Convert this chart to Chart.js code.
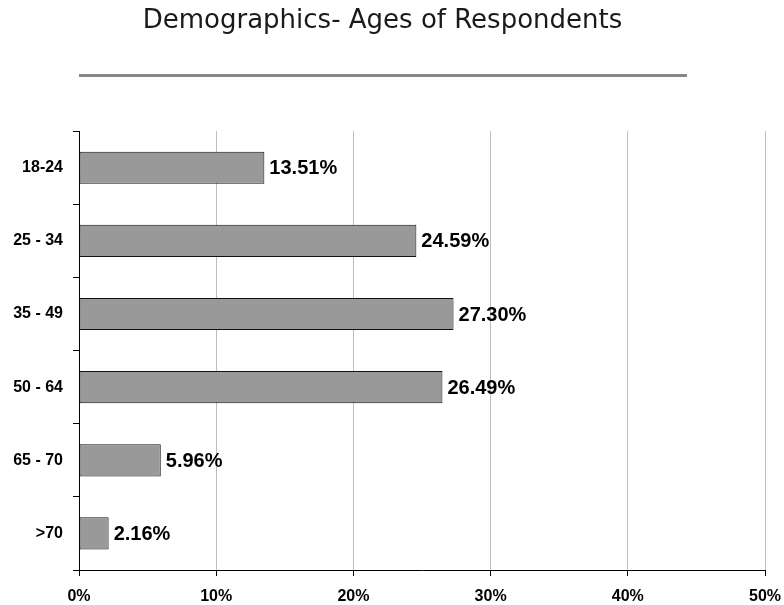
<!DOCTYPE html>
<html>
<head>
<meta charset="utf-8">
<script src="https://cdn.jsdelivr.net/npm/chart.js@4/dist/chart.umd.min.js"></script>
<style>
  html, body { margin: 0; padding: 0; background: #fff; }
  #wrap { width: 784px; height: 605px; }
</style>
</head>
<body>
<div id="wrap"><canvas id="chart" width="784" height="605"></canvas></div>
<script>
const title = 'Demographics- Ages of Respondents'
const ageGroups = ['18-24', '25 - 34', '35 - 49', '50 - 64', '65 - 70', '>70']
const shares = [13.51, 24.59, 27.30, 26.49, 5.96, 2.16]
const axisMax = 50
const axisStep = 10

// value printed to the right of each bar
const valueLabels = {
  id: 'valueLabels',
  afterDatasetsDraw(chart) {
    const { ctx } = chart
    const meta = chart.getDatasetMeta(0)
    ctx.save()
    ctx.font = 'bold 20px "Liberation Sans", Arial, sans-serif'
    ctx.fillStyle = '#000'
    ctx.textAlign = 'left'
    ctx.textBaseline = 'middle'
    meta.data.forEach((bar, i) => {
      ctx.fillText(shares[i].toFixed(2) + '%', bar.x + 5, bar.y + 1)
    })
    ctx.restore()
  }
}

// grey rule under the heading
const headingRule = {
  id: 'headingRule',
  afterDraw(chart) {
    const { ctx } = chart
    ctx.save()
    ctx.fillStyle = '#878787'
    ctx.fillRect(79, 74, 608, 3)
    ctx.restore()
  }
}

const tickFont = { family: '"Liberation Sans", Arial, sans-serif', size: 16, weight: 'bold' }

new Chart(document.getElementById('chart'), {
  type: 'bar',
  data: {
    labels: ageGroups,
    datasets: [{
      data: shares,
      backgroundColor: '#999999',
      borderColor: '#111111',
      borderWidth: 1,
      borderSkipped: false,
      barPercentage: 0.44,
      categoryPercentage: 1
    }]
  },
  options: {
    indexAxis: 'y',
    responsive: false,
    animation: false,
    layout: { padding: { left: 0, right: 19, top: 0, bottom: 0 } },
    plugins: {
      legend: { display: false },
      tooltip: { enabled: false },
      title: {
        display: true,
        text: title,
        color: '#1a1a1a',
        font: { family: '"DejaVu Sans", sans-serif', size: 26, weight: 'normal', lineHeight: 1.2 },
        padding: { top: 6, bottom: 94 }
      }
    },
    scales: {
      x: {
        min: 0,
        max: axisMax,
        ticks: {
          stepSize: axisStep,
          color: '#000',
          font: tickFont,
          padding: 11,
          callback: v => v + '%'
        },
        grid: { color: '#bdbdbd', tickColor: '#000', tickLength: 6 },
        border: { color: '#000', width: 1 },
        afterFit(scale) {
          scale.height = 35
          scale.paddingRight = 0
        }
      },
      y: {
        ticks: { color: '#000', font: tickFont, padding: 10 },
        grid: { drawOnChartArea: false, offset: true, color: '#000', tickColor: '#000', tickLength: 6 },
        border: { color: '#000', width: 1 },
        afterFit(scale) { scale.width = 79 }
      }
    }
  },
  plugins: [valueLabels, headingRule]
})
</script>
</body>
</html>
